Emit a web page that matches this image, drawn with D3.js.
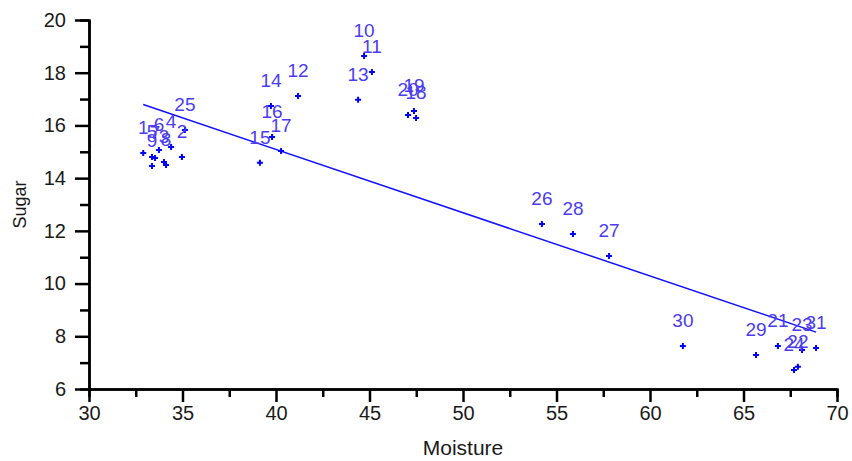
<!DOCTYPE html>
<html>
<head>
<meta charset="utf-8">
<script src="https://cdn.jsdelivr.net/npm/d3@7"></script>
<style>
  html, body { margin: 0; padding: 0; background: #fff; }
  svg { display: block; }
  text { font-family: "Liberation Sans", Arial, sans-serif; }
</style>
</head>
<body>
<svg id="chart" width="852" height="461"></svg>
<script>
// ---- data ----
const ids      = [1,2,3,4,5,6,7,8,9,10,11,12,13,14,15,16,17,18,19,20,21,22,23,24,25,26,27,28,29,30,31];
const moisture = [32.90,34.97,34.01,34.39,33.37,33.74,33.53,34.12,33.37,44.71,45.13,41.18,44.39,39.73,39.14,39.79,40.27,47.49,47.38,47.06,66.84,67.91,68.13,67.70,35.13,54.22,57.81,55.88,65.67,61.76,68.88];
const sugar    = [14.95,14.80,14.61,15.18,14.80,15.07,14.76,14.50,14.46,18.63,18.03,17.12,16.97,16.74,14.58,15.56,15.03,16.28,16.55,16.40,7.63,6.84,7.48,6.72,15.83,12.26,11.05,11.88,7.29,7.63,7.56];
const xTicks = [30,35,40,45,50,55,60,65,70];
const yTicks = [6,8,10,12,14,16,18,20];
const xTitle = "Moisture";
const yTitle = "Sugar";

// ---- layout ----
const svg = d3.select("#chart");
const x = d3.scaleLinear().domain([30,70]).range([89,837]);
const y = d3.scaleLinear().domain([6,20]).range([389,20]);

const pts = ids.map((id,i)=>({id, x:moisture[i], y:sugar[i]}));

// least-squares fit
const mx = d3.mean(moisture), my = d3.mean(sugar);
const sxy = d3.sum(pts, p => (p.x-mx)*(p.y-my));
const sxx = d3.sum(pts, p => (p.x-mx)*(p.x-mx));
const slope = sxy/sxx, intercept = my - slope*mx;
const [xmin, xmax] = d3.extent(moisture);

// axes
const xMinor = d3.range(30, 70.01, 2.5).filter(v => !xTicks.includes(v));
const yMinor = d3.range(6, 20.01, 1).filter(v => !yTicks.includes(v));

const gx = svg.append("g").attr("transform", `translate(0,${y(6)})`)
  .call(d3.axisBottom(x).tickValues(xTicks).tickSizeInner(13).tickSizeOuter(0).tickPadding(4).tickFormat(d3.format("d")));
gx.append("g").call(d3.axisBottom(x).tickValues(xMinor).tickSize(8).tickFormat(""));
const gy = svg.append("g").attr("transform", `translate(${x(30)},0)`)
  .call(d3.axisLeft(y).tickValues(yTicks).tickSizeInner(14).tickSizeOuter(0).tickPadding(9).tickFormat(d3.format("d")));
gy.append("g").call(d3.axisLeft(y).tickValues(yMinor).tickSize(9).tickFormat(""));

svg.selectAll(".domain").attr("stroke","#000").attr("stroke-width",2.5);
svg.selectAll(".tick line").attr("stroke","#000").attr("stroke-width",2.5);
svg.selectAll(".tick text").attr("fill","#1a1a1a").style("font-size","20px");

svg.append("text").attr("x", x(50)).attr("y", 455).attr("text-anchor","middle")
  .style("font-size","21px").attr("fill","#1a1a1a").text(xTitle);
svg.append("text").attr("transform", `translate(26,${y(13)}) rotate(-90)`).attr("text-anchor","middle")
  .style("font-size","18px").attr("fill","#1a1a1a").text(yTitle);

// regression line
svg.append("line")
  .attr("x1", x(xmin)).attr("y1", y(intercept + slope*xmin))
  .attr("x2", x(xmax)).attr("y2", y(intercept + slope*xmax))
  .attr("stroke","#1010ff").attr("stroke-width",1.5);

// points
const pg = svg.append("g");
pts.forEach(p => {
  const cx = x(p.x), cy = y(p.y);
  pg.append("path").attr("d", `M${cx-3},${cy}H${cx+3}M${cx},${cy-3}V${cy+3}`)
    .attr("stroke","#0000ff").attr("stroke-width",2).attr("fill","none");
});
// labels
svg.append("g").selectAll("text").data(pts).join("text")
  .attr("x", d => x(d.x)).attr("y", d => y(d.y) - 19)
  .attr("text-anchor","middle")
  .style("font-size","19px").attr("fill","#4b3cf2")
  .text(d => d.id);
</script>
</body>
</html>
